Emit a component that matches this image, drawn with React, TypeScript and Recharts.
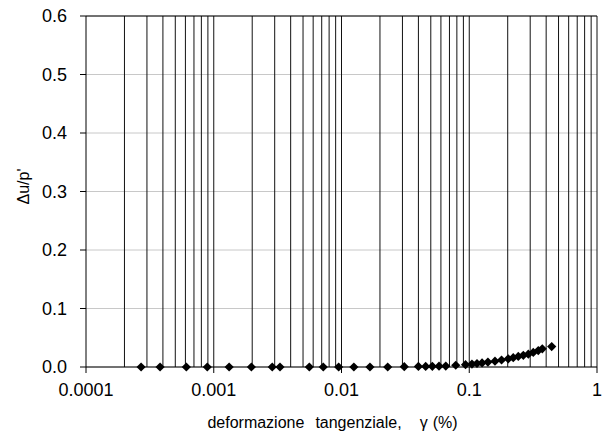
import React from 'react';
import {
  ScatterChart,
  Scatter,
  XAxis,
  YAxis,
  CartesianGrid,
  ReferenceLine,
  Label,
} from 'recharts';

const strain = [
  0.00027, 0.00038, 0.00061, 0.00089, 0.00132, 0.00197, 0.00287, 0.0033, 0.0056,
  0.0072, 0.0095, 0.0125, 0.0167, 0.023, 0.031, 0.04, 0.0456, 0.0514, 0.058,
  0.0655, 0.0784, 0.0935, 0.105, 0.115, 0.126, 0.14, 0.159, 0.179, 0.202, 0.221,
  0.242, 0.265, 0.29, 0.317, 0.347, 0.373, 0.442,
];
const porePressure = [
  0, 0, 0, 0, 0, 0, 0, 0, 0,
  0, 0, 0, 0, 0, 0.0005, 0.001, 0.001, 0.0012, 0.0014,
  0.0016, 0.003, 0.004, 0.005, 0.006, 0.007, 0.0085, 0.01, 0.012, 0.014, 0.016,
  0.018, 0.02, 0.022, 0.025, 0.028, 0.031, 0.035,
];

const xTicks = [0.0001, 0.001, 0.01, 0.1, 1];
const yTicks = [0, 0.1, 0.2, 0.3, 0.4, 0.5, 0.6];
const gridX = [
  0.0002, 0.0003, 0.0004, 0.0005, 0.0006, 0.0007, 0.0008, 0.0009, 0.001,
  0.002, 0.003, 0.004, 0.005, 0.006, 0.007, 0.008, 0.009, 0.01,
  0.02, 0.03, 0.04, 0.05, 0.06, 0.07, 0.08, 0.09, 0.1,
  0.2, 0.3, 0.4, 0.5, 0.6, 0.7, 0.8, 0.9, 1,
];

const data = strain.map((x, i) => ({ x, y: porePressure[i] }));

const FONT = 'Liberation Sans, Arial, sans-serif';
const tickFont = { fontSize: 18, fill: '#000', fontFamily: FONT };

const Diamond = (props: any) => {
  const { cx, cy } = props;
  const r = 4.6;
  return (
    <polygon
      points={`${cx},${cy - r} ${cx + r},${cy} ${cx},${cy + r} ${cx - r},${cy}`}
      fill="#000"
    />
  );
};

// x label: wide gaps between words as in the original
const XTitle = ({ viewBox }: any) => {
  const cx = viewBox.x + viewBox.width / 2 - 9;
  const y = viewBox.y + viewBox.height - 11;
  return (
    <text x={cx} y={y} textAnchor="middle" fontFamily={FONT} fontSize={16} fill="#000">
      deformazione
      <tspan dx={11}>tangenziale,</tspan>
      <tspan dx={18}>γ</tspan>
      <tspan dx={5}>(%)</tspan>
    </text>
  );
};

const YTitle = ({ viewBox }: any) => {
  const x = viewBox.x + 29;
  const y = viewBox.y + viewBox.height / 2 - 5;
  return (
    <text
      x={x}
      y={y}
      transform={`rotate(-90 ${x} ${y})`}
      textAnchor="middle"
      fontFamily={FONT}
      fontSize={16}
      fill="#000"
    >
      Δu/p'
    </text>
  );
};

export default function App() {
  return (
    <div style={{ position: 'absolute', left: 0, top: 0, background: '#fff' }}>
      <ScatterChart
        width={608}
        height={439}
        margin={{ top: 16, right: 11, left: 0, bottom: 0 }}
      >
        <CartesianGrid vertical={false} stroke="#c8c8c8" />
        {gridX.map((v) => (
          <ReferenceLine key={v} x={v} stroke="#111" strokeWidth={1} />
        ))}
        <ReferenceLine y={0.6} stroke="#000" strokeWidth={1} />
        <XAxis
          type="number"
          dataKey="x"
          scale="log"
          domain={[0.0001, 1]}
          ticks={xTicks}
          tickFormatter={(v: number) => String(v)}
          allowDataOverflow
          stroke="#000"
          tickLine={{ stroke: '#000' }}
          tickSize={6}
          tickMargin={10}
          tick={tickFont}
          height={72}
        >
          <Label content={<XTitle />} />
        </XAxis>
        <YAxis
          type="number"
          dataKey="y"
          domain={[0, 0.6]}
          ticks={yTicks}
          tickFormatter={(v: number) => v.toFixed(1)}
          stroke="#000"
          tickSize={6}
          tickMargin={13}
          tick={tickFont}
          width={86}
        >
          <Label content={<YTitle />} />
        </YAxis>
        <Scatter data={data} shape={<Diamond />} isAnimationActive={false} />
      </ScatterChart>
    </div>
  );
}
